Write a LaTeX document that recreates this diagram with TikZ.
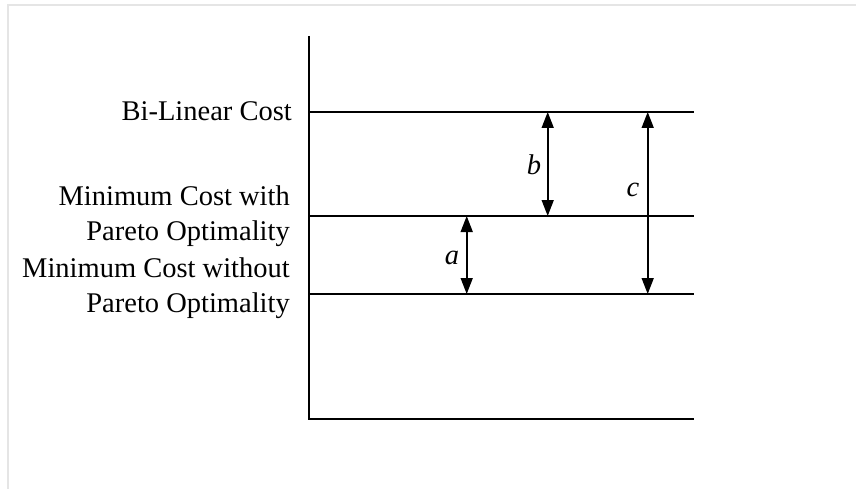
\documentclass[tikz,border=0pt]{standalone}
\usepackage{fontspec}
\setmainfont{Liberation Serif}
\usetikzlibrary{arrows.meta}
\tikzset{
  level/.style={line width=1.7pt, draw=black},
  dim/.style={line width=1.6pt, {Triangle[length=16pt,width=12pt]}-{Triangle[length=16pt,width=12pt]}},
  lbl/.style={inner sep=0pt, anchor=east, align=right, font=\fontsize{28.5}{35}\selectfont},
  var/.style={inner sep=0pt, font=\fontsize{28.5}{35}\selectfont\itshape},
  frame/.style={line width=2pt, draw=black!10}
}
\begin{document}
\begin{tikzpicture}[x=1pt,y=-1pt]
\useasboundingbox (0,0) rectangle (856,489);
\fill[white] (0,0) rectangle (856,489);
% light frame
\coordinate (fTL) at (8,5);
\coordinate (fTR) at (856,5);
\coordinate (fBL) at (8,489);
\draw[frame] (fBL) -- (fTL) -- (fTR);
% axis
\coordinate (axTop) at (309,36);
\coordinate (axBot) at (309,419);
\coordinate (botR) at (694,419);
\draw[level] (axTop) -- (axBot) -- (botR);
% levels
\coordinate (l1L) at (309,112);
\coordinate (l1R) at (694,112);
\coordinate (l2L) at (309,216);
\coordinate (l2R) at (694,216);
\coordinate (l3L) at (309,294);
\coordinate (l3R) at (694,294);
\draw[level] (l1L) -- (l1R);
\draw[level] (l2L) -- (l2R);
\draw[level] (l3L) -- (l3R);
% labels
\node[lbl] (tBL) at (292,111) {Bi-Linear Cost};
\node[lbl] (tMP) at (290,216) {Minimum Cost with\\Pareto Optimality};
\node[lbl] (tMN) at (290,288) {Minimum Cost without\\Pareto Optimality};
% dimension arrows
\coordinate (aT) at (466.7,216);
\coordinate (aB) at (466.7,294);
\coordinate (bT) at (547.7,112);
\coordinate (bB) at (547.7,216);
\coordinate (cT) at (647.7,112);
\coordinate (cB) at (647.7,294);
\draw[dim] (aT) -- (aB);
\draw[dim] (bT) -- (bB);
\draw[dim] (cT) -- (cB);
\node[var] (va) at (452,258) {a};
\node[var] (vb) at (534,165) {b};
\node[var] (vc) at (633,190) {c};
\end{tikzpicture}
\end{document}
